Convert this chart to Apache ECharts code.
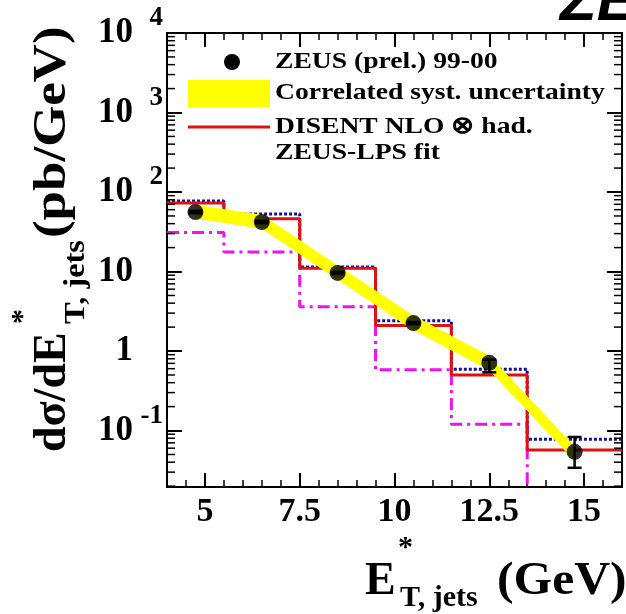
<!DOCTYPE html>
<html>
<head>
<meta charset="utf-8">
<script src="https://cdn.jsdelivr.net/npm/echarts@6/dist/echarts.min.js"></script>
<style>
html, body { margin: 0; padding: 0; background: #fff; }
#main { width: 626px; height: 614px; }
</style>
</head>
<body>
<div id="main"></div>
<script>
// bin edges in E_T* (GeV)
var binEdges = [4, 5.5, 7.5, 9.5, 11.5, 13.5, 16];
// ZEUS (prel.) 99-00 points
var dataX = [4.75, 6.5, 8.5, 10.5, 12.5, 14.75];
var dataY = [56, 42, 9.6, 2.25, 0.71, 0.054];
var errLo = [54, 40.5, 9.3, 2.18, 0.54, 0.034];
var errHi = [58, 43.5, 9.9, 2.32, 0.78, 0.083];
// correlated syst. uncertainty band
var bandLo = [47, 35, 8.0, 1.85, 0.58, 0.042];
var bandHi = [68, 51, 11.8, 2.75, 0.86, 0.062];
// theory histograms (per bin)
var nloRed = [73, 46, 11, 2.1, 0.50, 0.057];
var blueDot = [77, 53, 11.4, 2.4, 0.59, 0.078];
var magenta = [31, 17.6, 3.6, 0.58, 0.12, 0.008];

var xMajorTicks = [5, 7.5, 10, 12.5, 15];
var yMajorTicks = [0.1, 1, 10, 100, 1000, 10000];
var yTickLabels = ['{b|10}{n|-1}', '{b|1}{p|}', '{b|10}{p|}', '{b|10}{s|2}', '{b|10}{s|3}', '{b|10}{s|4}'];
var yMinorTicks = [];
[0.01, 0.1, 1, 10, 100, 1000].forEach(function (d) {
    for (var m = 2; m <= 9; m++) yMinorTicks.push(m * d);
});

var FONT = 'Liberation Serif';
var xMin = 4, xMax = 16, yMin = 0.0195, yMax = 10000;

function stepData(vals) {
    return binEdges.map(function (e, i) {
        return [e, vals[Math.min(i, vals.length - 1)]];
    });
}

function boldText(x, y, text, size, sx) {
    return {
        type: 'text', x: x, y: y, scaleX: sx || 1,
        style: { text: text, verticalAlign: 'middle', fontFamily: FONT, fontWeight: 'bold', fontSize: size, fill: '#000' }
    };
}

var myChart = echarts.init(document.getElementById('main'));

var frameLine = { onZero: false, show: true, lineStyle: { color: '#000', width: 2 } };
var supStyle = { fontFamily: FONT, fontWeight: 'bold', fontSize: 27, color: '#000', lineHeight: 25, verticalAlign: 'top' };

var option = {
    animation: false,
    backgroundColor: '#fff',
    grid: { left: 167, right: 4, top: 33, bottom: 127, containLabel: false, outerBoundsMode: 'none' },
    xAxis: [
        {
            type: 'value', position: 'bottom', min: xMin, max: xMax,
            axisLine: frameLine,
            axisTick: { inside: true, length: 14, customValues: xMajorTicks, lineStyle: { color: '#000', width: 2 } },
            axisLabel: { customValues: xMajorTicks, margin: 8, color: '#000', fontFamily: FONT, fontWeight: 'bold', fontSize: 34 },
            splitLine: { show: false }
        },
        {
            type: 'value', position: 'bottom', min: xMin, max: xMax, interval: 0.5,
            axisLine: { show: false, onZero: false },
            axisTick: { inside: true, length: 7, lineStyle: { color: '#000', width: 1.5 } },
            axisLabel: { show: false }, splitLine: { show: false }
        },
        {
            type: 'value', position: 'top', min: xMin, max: xMax,
            axisLine: frameLine,
            axisTick: { inside: true, length: 14, customValues: xMajorTicks, lineStyle: { color: '#000', width: 2 } },
            axisLabel: { show: false }, splitLine: { show: false }
        },
        {
            type: 'value', position: 'top', min: xMin, max: xMax, interval: 0.5,
            axisLine: { show: false, onZero: false },
            axisTick: { inside: true, length: 7, lineStyle: { color: '#000', width: 1.5 } },
            axisLabel: { show: false }, splitLine: { show: false }
        }
    ],
    yAxis: [
        {
            type: 'log', logBase: 10, position: 'left', min: yMin, max: yMax,
            axisLine: frameLine,
            axisTick: { inside: true, length: 15, lineStyle: { color: '#000', width: 2 } },
            axisLabel: {
                margin: 4, showMinLabel: false,
                formatter: function (v) {
                    for (var i = 0; i < yMajorTicks.length; i++) {
                        if (Math.abs(v / yMajorTicks[i] - 1) < 1e-6) return yTickLabels[i];
                    }
                    return '';
                },
                rich: {
                    b: { fontFamily: FONT, fontWeight: 'bold', fontSize: 35, color: '#000', lineHeight: 56 },
                    s: echarts.util.extend({ width: 16, padding: [0, 0, 0, 14] }, supStyle),
                    n: echarts.util.extend({ width: 30, padding: [0, 0, 0, 0] }, supStyle),
                    p: { width: 30, lineHeight: 22 }
                }
            },
            splitLine: { show: false }
        },
        {
            type: 'log', logBase: 10, position: 'right', min: yMin, max: yMax,
            axisLine: frameLine,
            axisTick: { inside: true, length: 15, lineStyle: { color: '#000', width: 2 } },
            axisLabel: { show: false }, splitLine: { show: false }
        }
    ],
    series: [
        {
            name: 'magenta', type: 'line', step: 'end', data: stepData(magenta),
            showSymbol: false, z: 2,
            lineStyle: { color: '#f010f0', width: 3, type: [12, 5, 3, 5] }
        },
        {
            name: 'blue', type: 'line', step: 'end', data: stepData(blueDot),
            showSymbol: false, z: 2,
            lineStyle: { color: '#10109a', width: 3, type: [3, 2] }
        },
        {
            name: 'DISENT NLO', type: 'line', step: 'end', data: stepData(nloRed),
            showSymbol: false, z: 2,
            lineStyle: { color: '#e01010', width: 3 }
        },
        {
            name: 'band', type: 'custom', z: 3, silent: true,
            data: dataX.map(function (x, i) { return [x, bandLo[i], bandHi[i]]; }),
            renderItem: function (params, api) {
                var i = params.dataIndex;
                if (i >= dataX.length - 1) return null;
                var a = api.coord([dataX[i], bandHi[i]]);
                var b = api.coord([dataX[i + 1], bandHi[i + 1]]);
                var c = api.coord([dataX[i + 1], bandLo[i + 1]]);
                var d = api.coord([dataX[i], bandLo[i]]);
                return {
                    type: 'polygon',
                    shape: { points: [a, b, c, d] },
                    style: { fill: '#ffff00', stroke: '#ffff00', lineWidth: 1 }
                };
            }
        },
        {
            name: 'errors', type: 'custom', z: 4, silent: true,
            data: dataX.map(function (x, i) { return [x, errLo[i], errHi[i]]; }),
            renderItem: function (params, api) {
                var top = api.coord([api.value(0), api.value(2)]);
                var bot = api.coord([api.value(0), api.value(1)]);
                var st = { stroke: '#000', lineWidth: 2.5 };
                return {
                    type: 'group',
                    children: [
                        { type: 'line', shape: { x1: top[0], y1: top[1], x2: bot[0], y2: bot[1] }, style: st },
                        { type: 'line', shape: { x1: top[0] - 7, y1: top[1], x2: top[0] + 7, y2: top[1] }, style: st },
                        { type: 'line', shape: { x1: bot[0] - 7, y1: bot[1], x2: bot[0] + 7, y2: bot[1] }, style: st }
                    ]
                };
            }
        },
        {
            name: 'ZEUS (prel.) 99-00', type: 'scatter', z: 5,
            data: dataX.map(function (x, i) { return [x, dataY[i]]; }),
            symbol: 'circle', symbolSize: 16,
            itemStyle: { color: '#000' }
        },
        {
            name: 'minorTicks', type: 'custom', z: 6, silent: true,
            data: yMinorTicks.map(function (v) { return [xMin, v]; }),
            renderItem: function (params, api) {
                var v = api.value(1);
                var l = api.coord([xMin, v]);
                var r = api.coord([xMax, v]);
                var st = { stroke: '#000', lineWidth: 1.5 };
                return {
                    type: 'group',
                    children: [
                        { type: 'line', shape: { x1: l[0], y1: l[1], x2: l[0] + 8, y2: l[1] }, style: st },
                        { type: 'line', shape: { x1: r[0] - 8, y1: r[1], x2: r[0], y2: r[1] }, style: st }
                    ]
                };
            }
        }
    ],
    graphic: [
        // legend
        { type: 'circle', shape: { cx: 232, cy: 62, r: 8 }, style: { fill: '#000' } },
        boldText(275, 62, 'ZEUS (prel.) 99-00', 24, 1.15),
        { type: 'rect', shape: { x: 188, y: 80, width: 82, height: 27 }, style: { fill: '#ffff00' } },
        boldText(275, 93, 'Correlated syst. uncertainty', 24, 1.15),
        { type: 'line', shape: { x1: 188, y1: 127, x2: 270, y2: 127 }, style: { stroke: '#e01010', lineWidth: 3 } },
        boldText(275, 127, 'DISENT NLO \u2297 had.', 24, 1.15),
        boldText(275, 153, 'ZEUS-LPS fit', 24, 1.15),
        // y axis title, rotated
        {
            type: 'group', x: 53, y: 452, rotation: Math.PI / 2,
            children: [
                boldText(0, 0, 'd\u03c3/dE', 46),
                boldText(128, 23, 'T, jets', 30, 1.08),
                boldText(128, -30, '*', 30),
                boldText(214, 0, '(pb/GeV)', 46, 1.15)
            ]
        },
        // x axis title
        boldText(365, 582, 'E', 46),
        boldText(398, 548, '*', 30),
        boldText(400, 598, 'T, jets', 30),
        boldText(497, 582, '(GeV)', 46, 1.08),
        // clipped experiment label at top right
        { type: 'text', x: 560, y: 33, style: { text: 'ZEUS', verticalAlign: 'bottom', fontFamily: 'Liberation Sans', fontWeight: 'bold', fontStyle: 'italic', fontSize: 60, fill: '#000' } }
    ]
};

if (option && typeof option === 'object') {
    myChart.setOption(option, true);
}
</script>
</body>
</html>
